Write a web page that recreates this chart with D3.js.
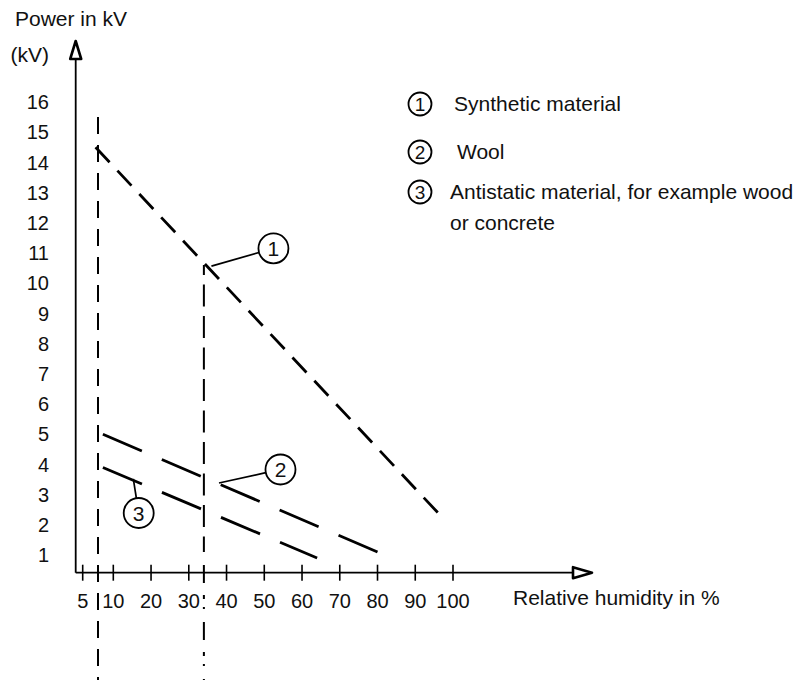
<html>
<head>
<meta charset="utf-8">
<script src="https://d3js.org/d3.v7.min.js" charset="utf-8"></script>
<style>
  body { margin: 0; background: #fff; }
  text { font-family: "Liberation Sans", Arial, sans-serif; fill: #111; }
</style>
<script>

    // humidity ticks (%) and power ticks (kV)
    var xTicks = [5, 10, 20, 30, 40, 50, 60, 70, 80, 90, 100];
    var yTicks = [1, 2, 3, 4, 5, 6, 7, 8, 9, 10, 11, 12, 13, 14, 15, 16];

    // curves: [humidity %, kV]
    var synthetic  = [[7.1, 14.5], [96, 2.4]];
    var wool       = [[8.3, 5.0], [80, 1.1]];
    var antistatic = [[8.3, 3.9], [64, 0.9]];

    var materials = ["Synthetic material", "Wool", "Antistatic material, for example wood|or concrete"];
    var calloutHumidity = [36, 38, 15.3];   // where each leader touches its curve

    // vertical reference marks
    var refHumidity = [7.5, 34];
    var refTopKv = [15.5, 10.6];

    var svg, x, y;
    var w = 806, h = 680;
    var axisX = 75.7, axisY = 572.7;

    function lerpKv(curve, hum){
        var a = curve[0], b = curve[1];
        return a[1] + (hum - a[0]) * (b[1] - a[1]) / (b[0] - a[0]);
    }

window.onload = function(){

    svg = d3.select("#chart")
        .attr("width", w)
        .attr("height", h)
        .style("background-color", "#fff");

    // the drawing squeezes 0..10 a little, so the scale is piecewise
    x = d3.scaleLinear().domain([0, 5, 10, 100]).range([axisX, 82.7, 113.3, 453]);
    y = d3.scaleLinear().domain([1, 16]).range([555, 102]);

    // axes
    svg.append("line")
        .attr("x1", axisX).attr("y1", 58)
        .attr("x2", axisX).attr("y2", axisY)
        .attr("stroke", "#000").attr("stroke-width", 1.8);
    svg.append("line")
        .attr("x1", axisX).attr("y1", axisY)
        .attr("x2", 574).attr("y2", axisY)
        .attr("stroke", "#000").attr("stroke-width", 1.8);

    // open arrow heads
    svg.append("path")
        .attr("d", "M" + axisX + ",41 L" + (axisX - 5.5) + ",59 L" + (axisX + 5.5) + ",59 Z")
        .attr("fill", "#fff").attr("stroke", "#000").attr("stroke-width", 2.6)
        .attr("stroke-linejoin", "round");
    svg.append("path")
        .attr("d", "M592," + axisY + " L573," + (axisY - 5.5) + " L573," + (axisY + 5.5) + " Z")
        .attr("fill", "#fff").attr("stroke", "#000").attr("stroke-width", 2.6)
        .attr("stroke-linejoin", "round");

    // x ticks + labels
    svg.selectAll("line.xtick")
        .data(xTicks)
        .enter()
        .append("line")
        .attr("class", "xtick")
        .attr("x1", function(d){ return x(d); })
        .attr("x2", function(d){ return x(d); })
        .attr("y1", axisY - 8)
        .attr("y2", axisY + 8)
        .attr("stroke", "#000").attr("stroke-width", 1.6);

    svg.selectAll("text.xlab")
        .data(xTicks)
        .enter()
        .append("text")
        .attr("class", "xlab")
        .attr("x", function(d){ return x(d); })
        .attr("y", 607.5)
        .attr("text-anchor", "middle")
        .attr("font-size", 20)
        .text(function(d){ return d; });

    svg.selectAll("text.ylab")
        .data(yTicks)
        .enter()
        .append("text")
        .attr("class", "ylab")
        .attr("x", 49)
        .attr("y", function(d){ return y(d); })
        .attr("dy", "0.36em")
        .attr("text-anchor", "end")
        .attr("font-size", 20)
        .text(function(d){ return d; });

    svg.append("text").attr("x", 15).attr("y", 26).attr("font-size", 21).text("Power in kV");
    svg.append("text").attr("x", 49).attr("y", 62).attr("text-anchor", "end").attr("font-size", 21).text("(kV)");
    svg.append("text").attr("x", 513).attr("y", 605).attr("font-size", 21).text("Relative humidity in %");

    // vertical reference marks
    svg.append("line")
        .attr("x1", x(refHumidity[0])).attr("x2", x(refHumidity[0]))
        .attr("y1", y(refTopKv[0])).attr("y2", h)
        .attr("stroke", "#000").attr("stroke-width", 2)
        .attr("stroke-dasharray", "17,11");
    svg.append("line")
        .attr("x1", x(refHumidity[1])).attr("x2", x(refHumidity[1]))
        .attr("y1", y(refTopKv[1])).attr("y2", 550)
        .attr("stroke", "#000").attr("stroke-width", 2)
        .attr("stroke-dasharray", "22,9.5")
        .attr("stroke-dashoffset", 12);
    svg.append("line")
        .attr("x1", x(refHumidity[1])).attr("x2", x(refHumidity[1]))
        .attr("y1", 550).attr("y2", h)
        .attr("stroke", "#000").attr("stroke-width", 2)
        .attr("stroke-dasharray", "2,13,18,12,4,8");

    // curves
    var line = d3.line()
        .x(function(d){ return x(d[0]); })
        .y(function(d){ return y(d[1]); });

    var curves = [
        {pts: synthetic, dash: "20.5,11.5"},
        {pts: wool, dash: "42.4,21.7"},
        {pts: antistatic, dash: "42.4,21.7"}
    ];

    svg.selectAll("path.curve")
        .data(curves)
        .enter()
        .append("path")
        .attr("class", "curve")
        .attr("d", function(d){ return line(d.pts); })
        .attr("fill", "none")
        .attr("stroke", "#000")
        .attr("stroke-width", 2.8)
        .attr("stroke-dasharray", function(d){ return d.dash; });

    // numbered callouts (offset from anchor to circle centre)
    var calloutOffset = [[62, -17.7], [61.5, -13.5], [5.4, 34.2]];
    var cr = 15;
    var callouts = curves.map(function(c, i){
        var ax = x(calloutHumidity[i]);
        var ay = y(lerpKv(c.pts, calloutHumidity[i]));
        var cx = ax + calloutOffset[i][0], cy = ay + calloutOffset[i][1];
        var dx = cx - ax, dy = cy - ay, len = Math.sqrt(dx*dx + dy*dy);
        return {n: i + 1, ax: ax, ay: ay, cx: cx, cy: cy,
                ex: cx - dx / len * cr, ey: cy - dy / len * cr};
    });

    var co = svg.selectAll("g.callout")
        .data(callouts)
        .enter()
        .append("g")
        .attr("class", "callout");
    co.append("line")
        .attr("x1", function(d){ return d.ax; })
        .attr("y1", function(d){ return d.ay; })
        .attr("x2", function(d){ return d.ex; })
        .attr("y2", function(d){ return d.ey; })
        .attr("stroke", "#000").attr("stroke-width", 1.7);
    co.append("circle")
        .attr("cx", function(d){ return d.cx; })
        .attr("cy", function(d){ return d.cy; })
        .attr("r", cr)
        .attr("fill", "#fff").attr("stroke", "#000").attr("stroke-width", 1.8);
    co.append("text")
        .attr("x", function(d){ return d.cx; })
        .attr("y", function(d){ return d.cy; })
        .attr("dy", "0.36em")
        .attr("text-anchor", "middle")
        .attr("font-size", 21)
        .text(function(d){ return d.n; });

    // legend
    var legY = [104, 152, 192];
    var legDx = [34, 37, 30];
    var leg = svg.selectAll("g.leg")
        .data(materials)
        .enter()
        .append("g")
        .attr("class", "leg")
        .attr("transform", function(d, i){ return "translate(420," + legY[i] + ")"; });
    leg.append("circle")
        .attr("r", 11.5)
        .attr("fill", "#fff").attr("stroke", "#000").attr("stroke-width", 1.8);
    leg.append("text")
        .attr("dy", "0.36em")
        .attr("text-anchor", "middle")
        .attr("font-size", 19)
        .text(function(d, i){ return i + 1; });
    leg.append("text")
        .attr("x", function(d, i){ return legDx[i]; })
        .attr("y", 6.5)
        .attr("font-size", 21)
        .each(function(d){
            var t = d3.select(this);
            d.split("|").forEach(function(s, k){
                t.append("tspan")
                    .attr("x", t.attr("x"))
                    .attr("dy", k == 0 ? 0 : 31.6)
                    .text(s);
            });
        });
}
</script>
</head>
<body>
<svg id="chart"></svg>
</body>
</html>
